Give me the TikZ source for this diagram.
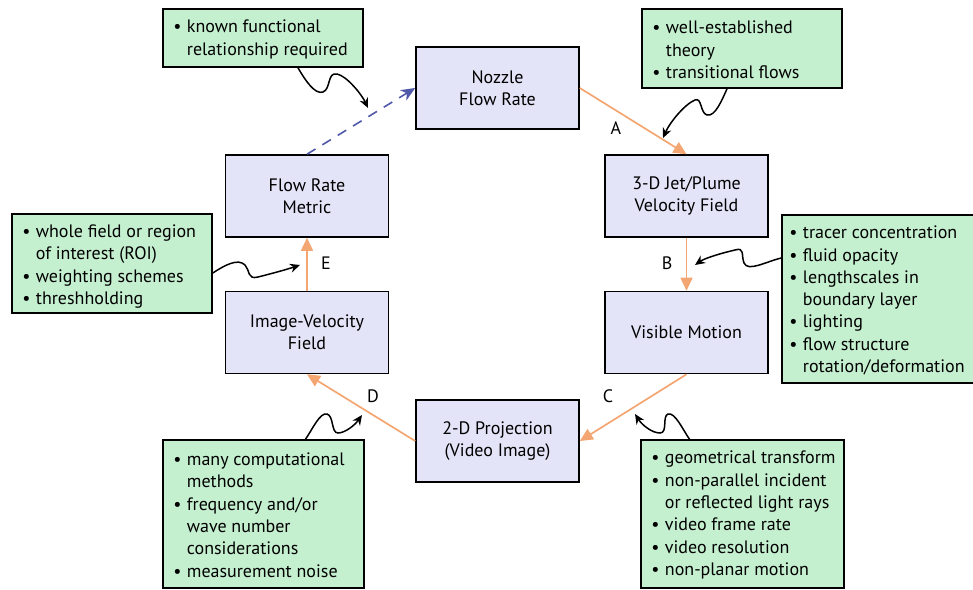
\documentclass[tikz,border=0pt]{standalone}
\usepackage{fontspec}
\setmainfont{PT Sans}
\usetikzlibrary{arrows.meta}
\definecolor{boxpurple}{RGB}{228,228,248}
\definecolor{boxgreen}{RGB}{197,240,208}
\definecolor{flowor}{RGB}{244,166,114}
\definecolor{dashblue}{RGB}{80,88,170}
\newcommand{\bul}{\makebox[13.5pt][l]{\textbullet}}
\newcommand{\cnt}{\makebox[13.5pt][l]{}}
\tikzset{
  mainfont/.style={font=\fontsize{18}{22.3}\selectfont},
  stagebox/.style={draw=black, line width=1.6pt, fill=boxpurple, minimum width=163pt, minimum height=82pt, inner sep=0pt, align=center, mainfont},
  notebox/.style={draw=black, line width=1.6pt, fill=boxgreen, inner sep=0pt},
  notetext/.style={inner sep=0pt, anchor=west, align=left, mainfont},
  flowarrow/.style={draw=flowor, line width=1.7pt, -{Triangle[length=13pt,width=12pt]}},
  dasharrow/.style={draw=dashblue, line width=1.6pt, dash pattern=on 10pt off 8pt, -{Stealth[length=14pt,width=12pt,inset=4pt]}},
  squig/.style={draw=black, line width=1.5pt, -{Stealth[length=10pt,width=9pt]}},
  steplabel/.style={inner sep=0pt, mainfont}
}
\begin{document}
\begin{tikzpicture}[x=1pt,y=-1pt]
\useasboundingbox (0,0) rectangle (973,589);
% stage boxes
\node[stagebox] (noz) at (497.5,88) {Nozzle\\Flow Rate};
\node[stagebox] (jet) at (686.5,196) {3-D Jet/Plume\\Velocity Field};
\node[stagebox] (vis) at (686.5,332.5) {Visible Motion};
\node[stagebox] (proj) at (497.5,441) {2-D Projection\\(Video Image)};
\node[stagebox] (img) at (307,332.5) {Image-Velocity\\Field};
\node[stagebox] (met) at (307,196) {Flow Rate\\Metric};
% flow arrows
\draw[flowarrow] (noz.east) -- (jet.north);
\draw[flowarrow] (jet.south) -- (vis.north);
\draw[flowarrow] (vis.south) -- (proj.east);
\draw[flowarrow] (proj.west) -- (img.south);
\draw[flowarrow] (img.north) -- (met.south);
\draw[dasharrow] (met.north) -- (noz.west);
% step labels
\node[steplabel] (lA) at (616,128) {A};
\node[steplabel] (lB) at (667,263) {B};
\node[steplabel] (lC) at (608,396) {C};
\node[steplabel] (lD) at (373,396) {D};
\node[steplabel] (lE) at (326,263) {E};
% note boxes
\node[notebox, minimum width=200pt, minimum height=58pt] (n1) at (263,38) {};
\node[notetext] (t1) at ([xshift=11pt,yshift=-1.5pt]n1.west) {\bul known functional\\\cnt relationship required};
\node[notebox, minimum width=200pt, minimum height=79pt] (n2) at (742,48.5) {};
\node[notetext] (t2) at ([xshift=11pt,yshift=-1.5pt]n2.west) {\bul well-established\\\cnt theory\\\bul transitional flows};
\node[notebox, minimum width=200pt, minimum height=99pt] (n3) at (112,263.5) {};
\node[notetext] (t3) at ([xshift=11pt,yshift=-3pt]n3.west) {\bul whole field or region\\\cnt of interest (ROI)\\\bul weighting schemes\\\bul threshholding};
\node[notebox, minimum width=194pt, minimum height=168pt] (n4) at (879,299) {};
\node[notetext] (t4) at ([xshift=8pt,yshift=-1.5pt]n4.west) {\bul tracer concentration\\\bul fluid opacity\\\bul lengthscales in\\\cnt boundary layer\\\bul lighting\\\bul flow structure\\\cnt rotation/deformation};
\node[notebox, minimum width=201pt, minimum height=148pt] (n5) at (263.5,514) {};
\node[notetext] (t5) at ([xshift=11pt,yshift=-1pt]n5.west) {\bul many computational\\\cnt methods\\\bul frequency and/or\\\cnt wave number\\\cnt considerations\\\bul measurement noise};
\node[notebox, minimum width=203pt, minimum height=148pt] (n6) at (742.5,514) {};
\node[notetext] (t6) at ([xshift=11pt,yshift=-1pt]n6.west) {\bul geometrical transform\\\bul non-parallel incident\\\cnt or reflected light rays\\\bul video frame rate\\\bul video resolution\\\bul non-planar motion};
% squiggle pointers
\coordinate (p1) at (368,108);
\coordinate (p2) at (663,138);
\coordinate (p3) at (300,265);
\coordinate (p4) at (695,265);
\coordinate (p5) at (362,415);
\coordinate (p6) at (635,414);
\draw[squig] ([xshift=35pt]n1.south) .. controls (305,80) and (315,95) .. (323,92) .. controls (331,89) and (327,72) .. (337,74) .. controls (347,76) and (362,95) .. (p1);
\draw[squig] ([xshift=-15pt]n2.south) .. controls (722,100) and (715,117) .. (707,115) .. controls (700,113) and (702,97) .. (695,100) .. controls (685,104) and (670,122) .. (p2);
\draw[squig] ([yshift=-9.5pt]n3.east) .. controls (225,265) and (238,258) .. (245,265) .. controls (250,270) and (247,280) .. (258,277) .. controls (270,274) and (285,270) .. (p3);
\draw[squig] ([yshift=41pt]n4.west) .. controls (765,262) and (748,272) .. (744,263) .. controls (741,255) and (745,247) .. (735,250) .. controls (722,253) and (705,258) .. (p4);
\draw[squig] ([xshift=42pt]n5.north) .. controls (312,430) and (320,412) .. (327,414) .. controls (334,416) and (331,433) .. (338,433) .. controls (345,433) and (355,425) .. (p5);
\draw[squig] ([xshift=-53pt]n6.north) .. controls (683,430) and (675,412) .. (668,414) .. controls (662,416) and (668,433) .. (660,433) .. controls (652,433) and (642,425) .. (p6);
\end{tikzpicture}
\end{document}
